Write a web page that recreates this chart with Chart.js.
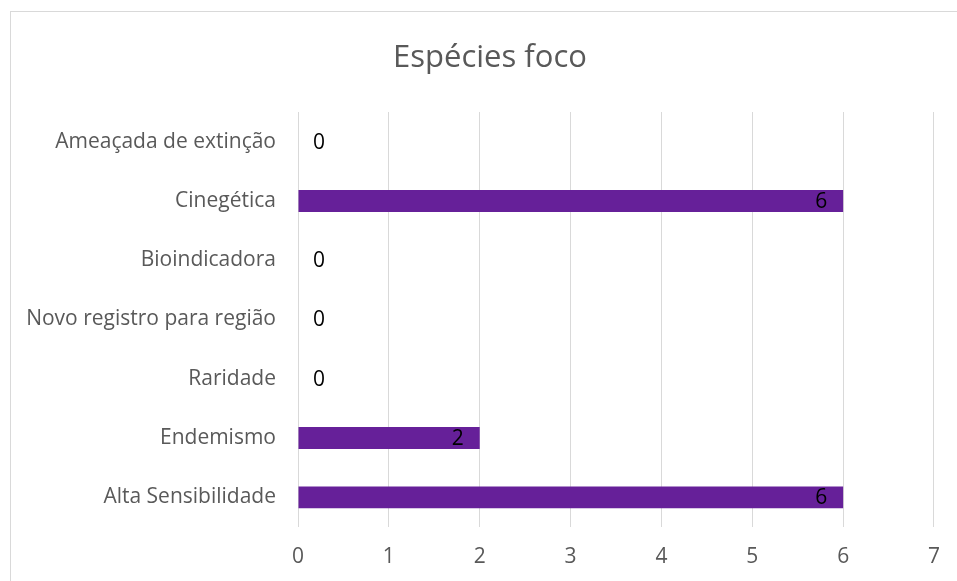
<!DOCTYPE html>
<html>
<head>
<meta charset="utf-8">
<script src="https://cdn.jsdelivr.net/npm/chart.js"></script>
<style>
    html, body { margin: 0; padding: 0; background: #fff; overflow: hidden; }
    #frame {
        position: absolute; left: 10px; top: 11px;
        width: 980px; height: 620px;
        border: 1px solid #d9d9d9;
    }
    #wrap { position: absolute; left: 0; top: 0; width: 957px; height: 581px; }
</style>
</head>
<body>
<div id="frame"></div>
<div id="wrap"><canvas id="chart"></canvas></div>
<script>
// 数据
var categories = ['Ameaçada de extinção', 'Cinegética', 'Bioindicadora', 'Novo registro para região', 'Raridade', 'Endemismo', 'Alta Sensibilidade'];
var values = [0, 6, 0, 0, 0, 2, 6];
var xTicks = [0, 1, 2, 3, 4, 5, 6, 7];
var chartTitle = 'Espécies foco';

var fontFamily = "'Open Sans', 'Noto Sans', sans-serif";

// 标题和数据标签
var labelPlugin = {
    id: 'labelPlugin',
    afterDraw: function(chart) {
        var ctx = chart.ctx;
        ctx.save();
        ctx.fillStyle = '#595959';
        ctx.font = '31px ' + fontFamily;
        ctx.textAlign = 'center';
        ctx.textBaseline = 'alphabetic';
        ctx.fillText(chartTitle, 490, 67);

        var meta = chart.getDatasetMeta(0);
        ctx.font = '21px ' + fontFamily;
        ctx.fillStyle = '#000';
        ctx.textBaseline = 'middle';
        for (var i = 0; i < meta.data.length; i++) {
            var bar = meta.data[i];
            var v = values[i];
            if (v === 0) {
                ctx.textAlign = 'left';
                ctx.fillText(String(v), bar.base + 15, bar.y + 1);
            } else {
                ctx.textAlign = 'right';
                ctx.fillText(String(v), bar.x - 16, bar.y + 1);
            }
        }
        ctx.restore();
    }
};

new Chart(document.getElementById('chart'), {
    type: 'bar',
    data: {
        labels: categories,
        datasets: [{
            data: values,
            backgroundColor: '#662099',
            borderWidth: 0,
            barPercentage: 0.37,
            categoryPercentage: 1
        }]
    },
    options: {
        indexAxis: 'y',
        responsive: true,
        maintainAspectRatio: false,
        animation: false,
        layout: { padding: { top: 112, right: 22, left: 0, bottom: 0 } },
        plugins: {
            legend: { display: false },
            title: { display: false },
            tooltip: { enabled: false }
        },
        scales: {
            x: {
                min: 0,
                max: 7,
                afterBuildTicks: function(scale) {
                    scale.ticks = xTicks.map(function(t) { return { value: t }; });
                },
                afterFit: function(scale) { scale.height = 54; },
                grid: { color: '#d9d9d9', drawTicks: false },
                border: { display: false },
                ticks: { color: '#595959', padding: 17, font: { size: 21, family: fontFamily } }
            },
            y: {
                afterFit: function(scale) { scale.width = 298; },
                grid: { display: false, drawTicks: false },
                border: { display: false },
                ticks: { color: '#595959', padding: 22, font: { size: 21, family: fontFamily } }
            }
        }
    },
    plugins: [labelPlugin]
});
</script>
</body>
</html>
